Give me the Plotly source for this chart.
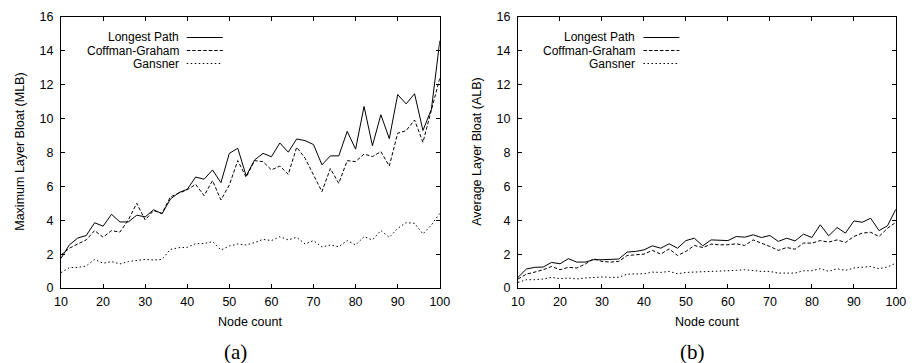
import plotly.graph_objects as go

nodes = list(range(10, 101, 2))

# (a) Maximum Layer Bloat
mlb_longest = [1.75, 2.55, 2.95, 3.1, 3.85, 3.65, 4.35, 3.9, 3.9, 4.3, 4.2, 4.62, 4.38, 5.25, 5.63, 5.83,
               6.55, 6.42, 6.97, 6.22, 7.95, 8.25, 6.62, 7.56, 7.95, 7.75, 8.56, 8.02, 8.8, 8.7, 8.47,
               7.27, 7.8, 7.8, 9.25, 8.2, 10.72, 8.4, 10.23, 8.82, 11.42, 10.87, 11.47, 9.3, 10.55, 14.6]
mlb_coffman = [1.95, 2.35, 2.6, 2.84, 3.39, 3.0, 3.39, 3.3, 4.02, 5.0, 4.02, 4.57, 4.41, 5.38, 5.6, 5.8,
               6.12, 5.45, 6.34, 5.2, 6.08, 7.52, 6.54, 7.52, 7.46, 6.97, 7.2, 6.71, 8.31, 7.66, 6.67,
               5.69, 7.05, 6.18, 7.52, 7.46, 7.91, 7.76, 8.05, 7.2, 9.14, 9.29, 9.92, 8.6, 10.5, 12.38]
mlb_gansner = [0.91, 1.2, 1.22, 1.3, 1.69, 1.46, 1.56, 1.42, 1.56, 1.61, 1.69, 1.65, 1.69, 2.28, 2.38, 2.4,
               2.62, 2.62, 2.74, 2.24, 2.48, 2.6, 2.54, 2.68, 2.87, 2.8, 3.03, 2.84, 2.99, 2.6, 2.8,
               2.42, 2.54, 2.44, 2.8, 2.54, 3.03, 2.84, 3.39, 2.99, 3.52, 3.86, 3.82, 3.19, 3.72, 4.41]

# (b) Average Layer Bloat
alb_longest = [0.63, 1.12, 1.22, 1.24, 1.51, 1.43, 1.73, 1.53, 1.53, 1.67, 1.67, 1.67, 1.71, 2.12, 2.16, 2.25,
               2.49, 2.35, 2.61, 2.35, 2.8, 2.94, 2.49, 2.84, 2.84, 2.8, 3.04, 3.0, 3.14, 2.98, 3.1,
               2.75, 2.94, 2.78, 3.18, 2.98, 3.73, 3.08, 3.57, 3.24, 3.96, 3.88, 4.12, 3.39, 3.67, 4.65]
alb_coffman = [0.53, 0.82, 0.94, 1.08, 1.27, 1.08, 1.22, 1.18, 1.41, 1.73, 1.57, 1.53, 1.57, 1.92, 1.96, 2.0,
               2.22, 2.0, 2.31, 1.92, 2.16, 2.51, 2.39, 2.59, 2.55, 2.55, 2.61, 2.51, 2.84, 2.65, 2.45,
               2.22, 2.39, 2.29, 2.65, 2.65, 2.8, 2.71, 2.84, 2.69, 3.04, 3.24, 3.29, 3.04, 3.53, 3.88]
alb_gansner = [0.33, 0.49, 0.49, 0.53, 0.63, 0.55, 0.59, 0.53, 0.59, 0.63, 0.65, 0.63, 0.63, 0.82, 0.82, 0.84,
               0.94, 0.92, 0.98, 0.84, 0.92, 0.94, 0.94, 0.98, 0.98, 0.98, 1.04, 1.08, 1.02, 0.98, 0.98,
               0.88, 0.88, 0.88, 1.02, 1.02, 1.14, 0.98, 1.14, 1.04, 1.18, 1.24, 1.27, 1.14, 1.24, 1.47]

series_names = ["Longest Path", "Coffman-Graham", "Gansner"]
dashes = ["solid", "3.5px,2px", "1.5px,2.5px"]
x_ticks = list(range(10, 101, 10))
y_ticks = list(range(0, 17, 2))
panel_labels = ["(a)", "(b)"]
y_titles = ["Maximum Layer Bloat (MLB)", "Average Layer Bloat (ALB)"]
x_title = "Node count"

FONT = "Liberation Sans, Arial, Helvetica, sans-serif"
FS = 12.5
LEG_FS = 12

fig = go.Figure()
panels = [(mlb_longest, mlb_coffman, mlb_gansner), (alb_longest, alb_coffman, alb_gansner)]
for p, data in enumerate(panels):
    xa = "x" if p == 0 else "x2"
    ya = "y" if p == 0 else "y2"
    for vals, name, dash in zip(data, series_names, dashes):
        fig.add_trace(go.Scatter(x=nodes, y=vals, mode="lines", name=name, showlegend=False,
                                 xaxis=xa, yaxis=ya,
                                 line=dict(color="black", width=1, dash=dash)))

axis_common = dict(showgrid=False, zeroline=False, showline=True, linecolor="black", linewidth=1,
                   mirror="ticks", ticks="inside", ticklen=4, tickcolor="black", tickwidth=1,
                   tickfont=dict(family=FONT, size=FS, color="black"))

W, H = 914, 363
doms = [(55 / W, 441 / W), (520.7 / W, 905.7 / W)]

fig.update_layout(
    width=W, height=H,
    margin=dict(l=0, r=0, t=17, b=75),
    paper_bgcolor="white", plot_bgcolor="white",
    showlegend=False,
    xaxis=dict(domain=doms[0], range=[10, 100], tickvals=x_ticks, anchor="y", ticklabelstandoff=2, **axis_common),
    yaxis=dict(domain=[0, 1], range=[0, 16], tickvals=y_ticks, anchor="x", ticklabelstandoff=4, **axis_common),
    xaxis2=dict(domain=doms[1], range=[10, 100], tickvals=x_ticks, anchor="y2", ticklabelstandoff=2, **axis_common),
    yaxis2=dict(domain=[0, 1], range=[0, 16], tickvals=y_ticks, anchor="x2", ticklabelstandoff=4, **axis_common),
)

plot_h = H - 17 - 75
annotations = []
shapes = []
for p in range(2):
    d0, d1 = doms[p]
    cx = (d0 + d1) / 2
    # x-axis title
    annotations.append(dict(text=x_title, x=cx, y=(288 - 322) / plot_h, xref="paper", yref="paper",
                            showarrow=False, xanchor="center", yanchor="middle",
                            font=dict(family=FONT, size=FS, color="black")))
    # panel label
    annotations.append(dict(text=panel_labels[p], x=cx - 15 / W, y=(288 - 352) / plot_h, xref="paper", yref="paper",
                            showarrow=False, xanchor="center", yanchor="middle",
                            font=dict(family="Liberation Serif, DejaVu Serif, serif", size=21, color="black")))
    # y-axis title
    annotations.append(dict(text=y_titles[p], x=(d0 * W - 42) / W, y=(288 - 152) / plot_h, xref="paper", yref="paper",
                            showarrow=False, textangle=-90, xanchor="center", yanchor="middle",
                            font=dict(family=FONT, size=FS, color="black")))
    # legend
    xr = "x domain" if p == 0 else "x2 domain"
    yr = "y domain" if p == 0 else "y2 domain"
    rows = [1 - 20.5 / plot_h, 1 - 33.5 / plot_h, 1 - 46.5 / plot_h]
    for name, dash, ry in zip(series_names, dashes, rows):
        annotations.append(dict(text=name, x=0.313, y=ry, xref=xr, yref=yr, showarrow=False,
                                xanchor="right", yanchor="middle", borderpad=0,
                                font=dict(family=FONT, size=LEG_FS, color="black")))
        shapes.append(dict(type="line", xref=xr, yref=yr, x0=0.332, x1=0.427, y0=ry, y1=ry,
                           line=dict(color="black", width=1, dash=dash)))

fig.update_layout(annotations=annotations, shapes=shapes)
fig.write_html("out.html")
